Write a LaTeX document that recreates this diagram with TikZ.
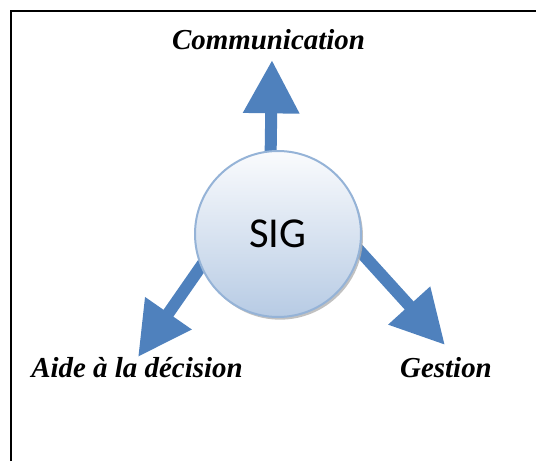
\documentclass[tikz,border=0pt]{standalone}
\usepackage{fontspec}
\setmainfont{Liberation Serif}
\newfontfamily\calibrifont{Carlito}
\usetikzlibrary{arrows.meta,backgrounds,shadows,calc}
\definecolor{arrowblue}{HTML}{4F81BD}
\definecolor{circedge}{HTML}{95B3D7}
\definecolor{circtop}{HTML}{FAFBFD}
\definecolor{circbot}{HTML}{B7CBE4}
\tikzset{
 bigarrow/.style={draw=arrowblue, line width=9pt, -{Triangle[length=40pt,width=40pt]}, arrowblue},
 lbl/.style={font=\fontsize{21.7}{26}\selectfont\bfseries\itshape, anchor=base, inner sep=0pt},
 sigcircle/.style={circle, minimum size=124.5pt, inner sep=0pt, draw=circedge, line width=1.5pt,
   top color=circtop, bottom color=circbot,
   drop shadow={shadow xshift=1.5pt, shadow yshift=-2pt, fill=gray!60, opacity=0.8},
   font=\calibrifont\fontsize{32}{38}\selectfont},
 frameline/.style={line width=1.5pt, black}
}
\begin{document}
\begin{tikzpicture}[x=0.75pt,y=-0.75pt]
\useasboundingbox (0,0) rectangle (536,461);
\draw[frameline] (11,461) -- (11,11) -- (536,11);
\node[sigcircle] (sig) at (278,234) {SIG};
\coordinate (tipC) at (272,60);
\coordinate (tipA) at (138,357);
\coordinate (tipG) at (445,345);
\begin{pgfonlayer}{background}
\draw[bigarrow] ($(sig.95)!-8pt!(tipC)$) -- (tipC);
\draw[bigarrow] ($(sig.203)!-8pt!(tipA)$) -- (tipA);
\draw[bigarrow] ($(sig.348)!-8pt!(tipG)$) -- (tipG);
\end{pgfonlayer}
\node[lbl] (comm) at (268.5,49) {Communication};
\node[lbl] (aide) at (137,377) {Aide à la décision};
\node[lbl] (gest) at (446,377) {Gestion};
\end{tikzpicture}
\end{document}
